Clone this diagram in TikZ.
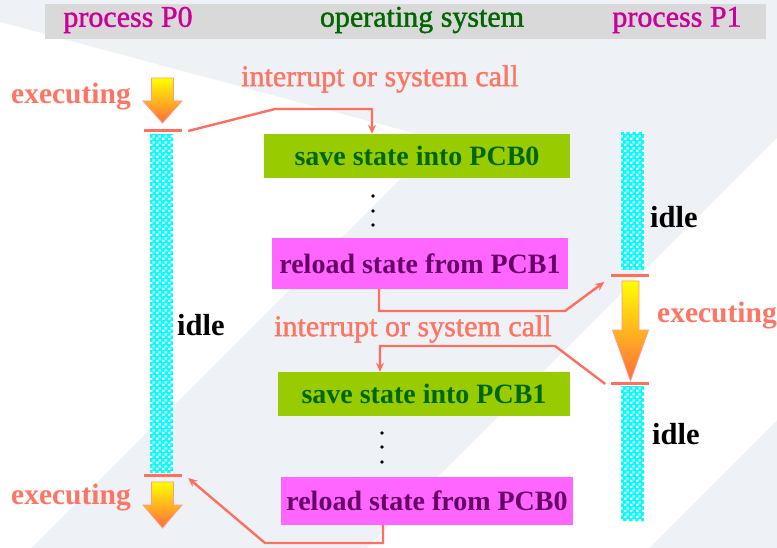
\documentclass[tikz,border=0pt]{standalone}
\usepackage{fontspec}
\setmainfont{Liberation Serif}
\newfontfamily\medfont[FakeBold=1.3]{Liberation Serif}
\usetikzlibrary{arrows.meta,calc,patterns}

\definecolor{bgGray}{HTML}{EEF2F6}
\definecolor{barGray}{HTML}{D9D9D9}
\definecolor{salmon}{HTML}{FF6F5E}
\definecolor{salmonText}{HTML}{FF7563}
\definecolor{procMag}{HTML}{CC0099}
\definecolor{osGreen}{HTML}{006600}
\definecolor{saveGreen}{HTML}{99CC00}
\definecolor{reloadMag}{HTML}{FF66FF}
\definecolor{reloadText}{HTML}{660066}
\definecolor{idleCyan}{HTML}{00FFFF}
\definecolor{arrowTop}{HTML}{FFFF00}
\definecolor{arrowBot}{HTML}{FF6A3D}

% white checks laid over the cyan idle bars
\pgfdeclarepatternformonly{finechecks}{\pgfpointorigin}{\pgfqpoint{6pt}{6pt}}{\pgfqpoint{6pt}{6pt}}{%
  \pgfpathrectangle{\pgfpointorigin}{\pgfqpoint{2.6pt}{2.6pt}}%
  \pgfpathrectangle{\pgfqpoint{3pt}{3pt}}{\pgfqpoint{2.6pt}{2.6pt}}%
  \pgfusepath{fill}}

\tikzset{
  title/.style={font=\medfont\fontsize{30}{34}\selectfont, inner sep=0pt},
  label/.style={font=\medfont\fontsize{30}{34}\selectfont, text=salmonText, inner sep=0pt},
  execlabel/.style={font=\bfseries\fontsize{29.5}{33}\selectfont, text=salmonText, inner sep=0pt},
  idlelabel/.style={font=\bfseries\fontsize{30.5}{34}\selectfont, text=black, inner sep=0pt},
  savebox/.style={fill=saveGreen, text=osGreen, font=\bfseries\fontsize{28}{32}\selectfont, inner sep=0pt},
  reloadbox/.style={fill=reloadMag, text=reloadText, font=\bfseries\fontsize{28}{32}\selectfont, inner sep=0pt},
  idlebar/.style={fill=idleCyan, postaction={pattern=finechecks, pattern color=white}, draw=none},
  tick/.style={fill=salmon, draw=none, minimum height=3pt, inner sep=0pt, minimum width=38pt},
  conn/.style={draw=salmon, line width=2.4pt, -{Stealth[length=9pt,width=8pt]}},
  dot/.style={circle, fill=black, inner sep=0pt, minimum size=3.8pt},
}

% downward gradient arrow: centre x, top y, neck y, tip y, shaft half width, head half width
\newcommand\drawExecArrow[6]{%
  \draw[draw=salmon!70, line width=0.8pt, top color=arrowTop, bottom color=arrowBot]
    (#1-#5,#2) -- (#1+#5,#2) -- (#1+#5,#3) -- (#1+#6,#3) -- (#1,#4)
    -- (#1-#6,#3) -- (#1-#5,#3) -- cycle;}

\begin{document}
\begin{tikzpicture}[x=1pt,y=-1pt]
  \useasboundingbox (0,0) rectangle (777,548);
  % background with light diagonal bands
  \begin{scope}
    \clip (0,0) rectangle (777,548);
    \fill[bgGray] (0,0) rectangle (777,548);
    \fill[white] (0,22) -- (439,140) -- (0,579) -- cycle;
    \fill[white] (777,138) -- (777,420) -- (649,548) -- (367,548) -- cycle;
  \end{scope}

  % heading bar
  \fill[barGray] (45,4) rectangle (766,39);
  \node[title, text=procMag] (hP0) at (128,20) {process P0};
  \node[title, text=osGreen] (hOS) at (422,20) {operating system};
  \node[title, text=procMag] (hP1) at (677,20) {process P1};

  % process P0 timeline
  \drawExecArrow{162.5}{78}{101}{123}{11}{19.5}
  \node[execlabel, anchor=east] (ex0) at (131,97) {executing};
  \node[tick] (tk1) at (163,131) {};
  \fill[idlebar] (150,134) rectangle (173,473);
  \node[idlelabel, anchor=west] (id0) at (177,325) {idle};
  \node[tick] (tk4) at (163,475) {};
  \drawExecArrow{162.5}{482}{505}{528}{11}{19.5}
  \node[execlabel, anchor=east] (ex0b) at (131,498) {executing};

  % operating system column
  \node[label, anchor=west] (int1) at (241,79) {interrupt or system call};
  \node[savebox, minimum width=306pt, minimum height=44pt] (sv0) at (417,156) {save state into PCB0};
  \node[dot] (d1) at (373,196) {};
  \node[dot] (d2) at (373,211) {};
  \node[dot] (d3) at (373,225) {};
  \node[reloadbox, minimum width=296pt, minimum height=51pt] (rl1) at (420,263.5) {reload state from PCB1};
  \node[label, anchor=west] (int2) at (274,329) {interrupt or system call};
  \node[savebox, minimum width=292pt, minimum height=44pt] (sv1) at (424,394) {save state into PCB1};
  \node[dot] (d4) at (382,433) {};
  \node[dot] (d5) at (382,447) {};
  \node[dot] (d6) at (382,462) {};
  \node[reloadbox, minimum width=292pt, minimum height=48pt] (rl0) at (427,501) {reload state from PCB0};

  % process P1 timeline
  \fill[idlebar] (621,132) rectangle (644,270);
  \node[idlelabel, anchor=west] (id1) at (650,217) {idle};
  \node[tick] (tk2) at (629.5,276) {};
  \drawExecArrow{630.5}{281}{330}{381}{8.5}{18}
  \node[execlabel, anchor=west] (ex1) at (657,316) {executing};
  \node[tick] (tk3) at (629.5,383) {};
  \fill[idlebar] (621,386) rectangle (644,521);
  \node[idlelabel, anchor=west] (id2) at (652,434) {idle};

  % context switch connectors
  \coordinate (b1) at (275,109);
  \draw[conn] ($(tk1.east)+(6,0)$) -- (b1) -| ($(sv0.north)+(-45,0)$);
  \coordinate (b2) at (565,311);
  \draw[conn] ($(rl1.south)+(-41,0)$) |- (b2) -- ($(tk2.west)+(-6,6)$);
  \coordinate (b3) at (555,346);
  \draw[conn] ($(tk3.west)+(-5,1)$) -- (b3) -| ($(sv1.north)+(-44,0)$);
  \coordinate (b4) at (265,543);
  \draw[conn] ($(rl0.south)+(-44,0)$) |- (b4) -- ($(tk4.east)+(6,3)$);
\end{tikzpicture}
\end{document}
